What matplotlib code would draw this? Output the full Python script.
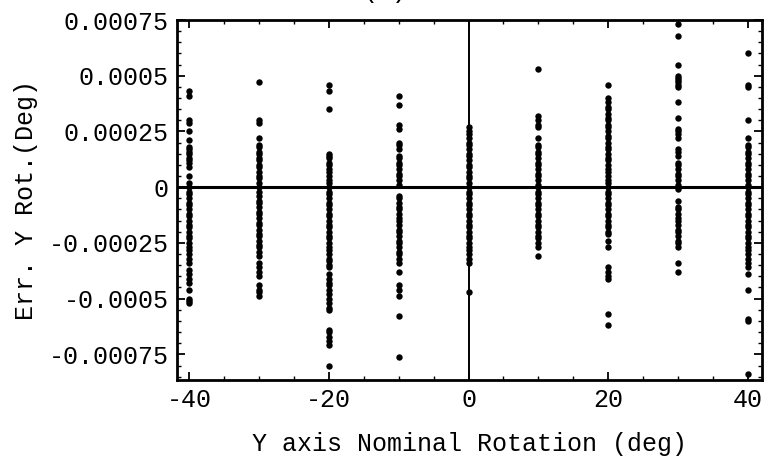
import matplotlib
matplotlib.use("Agg")
import matplotlib.pyplot as plt
from matplotlib.ticker import FixedLocator, FixedFormatter, MultipleLocator

# Nominal rotation positions (deg)
nominal = [-40, -30, -20, -10, 0, 10, 20, 30, 40]

# Error values, in units of 1e-5 deg
err_m40 = [43, 41, 30, 29, 25, 21, 18, 17, 16, 15, 13, 12, 11, 9, 5,
           2, 0, -2, -3, -5, -7, -8, -10, -12, -13, -15, -17, -18, -20, -22,
           -23, -25, -27, -28, -30, -32, -34, -37, -39, -41, -43, -46, -50, -51, -52]
err_m30 = [47, 30, 29, 22, 19, 18, 16, 15, 13, 12, 10, 9, 7, 5, 4, 2, 0, -2,
           -4, -6, -7, -9, -11, -12, -14, -16, -17, -19, -21, -22, -24, -26, -27,
           -29, -31, -34, -36, -38, -40, -44, -46, -47, -49]
err_m20 = [46, 43, 35, 15, 14, 13, 11, 10, 8, 7, 5, 3, 2, 0, -2, -3, -5, -7, -8,
           -10, -12, -13, -15, -17, -18, -20, -22, -23, -25, -27, -28, -30, -32,
           -33, -35, -36, -39, -41, -43, -44, -46, -48, -50, -52, -54, -55,
           -64, -65, -67, -69, -71, -80]
err_m10 = [41, 37, 28, 26, 20, 19, 17, 14, 13, 11, 10, 8, 6, 5, 3, 1,
           -4, -5, -7, -9, -10, -12, -14, -15, -17, -19, -20, -22, -24, -25, -27,
           -29, -30, -32, -34, -38, -44, -46, -49, -58, -76]
err_0 = [27, 25, 24, 22, 20, 19, 17, 15, 14, 12, 10, 9, 7, 5, 4, 2, 0, -2, -3,
         -5, -7, -8, -10, -12, -13, -15, -17, -18, -20, -22, -23, -25, -27, -28,
         -30, -32, -34, -47]
err_10 = [53, 32, 30, 28, 27, 22, 19, 18, 16, 15, 13, 11, 10, 8, 6, 5, 3, 1, 0,
          -2, -3, -5, -7, -8, -10, -12, -13, -15, -17, -18, -20, -22, -23, -25,
          -27, -31]
err_20 = [46, 40, 38, 36, 35, 33, 31, 30, 28, 27, 25, 23, 22, 20, 18, 17, 15, 13,
          12, 10, 8, 7, 5, 3, 2, 0, -2, -3, -5, -7, -8, -10, -12, -13, -15, -17,
          -18, -20, -21, -24, -27, -36, -38, -40, -41, -57, -62]
err_30 = [73, 68, 55, 50, 49, 48, 47, 46, 45, 38, 31, 26, 25, 24, 22, 17, 16, 14,
          11, 10, 8, 6, 5, 3, 1, 0, -1, -6, -9, -10, -12, -14, -15, -17, -19,
          -20, -22, -24, -25, -27, -34, -38]
err_40 = [60, 46, 45, 30, 22, 19, 18, 16, 15, 13, 11, 10, 8, 6, 5, 3, 1, 0, -2,
          -3, -5, -7, -8, -10, -12, -13, -15, -17, -18, -20, -22, -23, -25, -27,
          -28, -30, -32, -34, -36, -39, -46, -59, -60, -84]
columns = [err_m40, err_m30, err_m20, err_m10, err_0, err_10, err_20, err_30, err_40]
UNIT = 1e-5

y_ticks = [0.00075, 0.0005, 0.00025, 0, -0.00025, -0.0005, -0.00075]
y_tick_labels = ["0.00075", "0.0005", "0.00025", "0", "-0.00025", "-0.0005", "-0.00075"]
x_ticks = [-40, -20, 0, 20, 40]
x_tick_labels = ["-40", "-20", "0", "20", "40"]

plt.rcParams['font.family'] = ['Liberation Mono', 'DejaVu Sans Mono']

fig = plt.figure(figsize=(7.64, 4.57), dpi=100)
ax = fig.add_axes([177/764, 1 - 380/457, (762 - 177)/764, (380 - 20)/457])

for xv, col in zip(nominal, columns):
    ys = [v * UNIT for v in col]
    ax.plot([xv] * len(ys), ys, 'o', color='black', ms=4.6, mec='none', zorder=3)

ax.axhline(0, color='black', lw=2.2, zorder=2)
ax.axvline(0, color='black', lw=1.4, zorder=2)

ax.set_xlim(-41.72, 42.0)
ax.set_ylim(-0.000865, 0.00075)

ax.yaxis.set_major_locator(FixedLocator(y_ticks))
ax.yaxis.set_major_formatter(FixedFormatter(y_tick_labels))
ax.xaxis.set_major_locator(FixedLocator(x_ticks))
ax.xaxis.set_major_formatter(FixedFormatter(x_tick_labels))
ax.xaxis.set_minor_locator(MultipleLocator(5))
ax.yaxis.set_minor_locator(MultipleLocator(0.00005))

ax.tick_params(which='major', direction='in', length=6, width=1.3,
               top=True, right=True, labelsize=18, pad=6)
ax.tick_params(which='minor', direction='in', length=3, width=1.0,
               top=True, right=True)

for s in ax.spines.values():
    s.set_linewidth(2.0)

ax.set_xlabel("Y axis Nominal Rotation (deg)", fontsize=18, labelpad=14)
ax.set_ylabel("Err. Y Rot.(Deg)", fontsize=18, labelpad=8)

fig.text(0.504, 1 - 3/457, "(b)", fontsize=18, ha='center', va='bottom')

fig.savefig("out.png", dpi=100)
